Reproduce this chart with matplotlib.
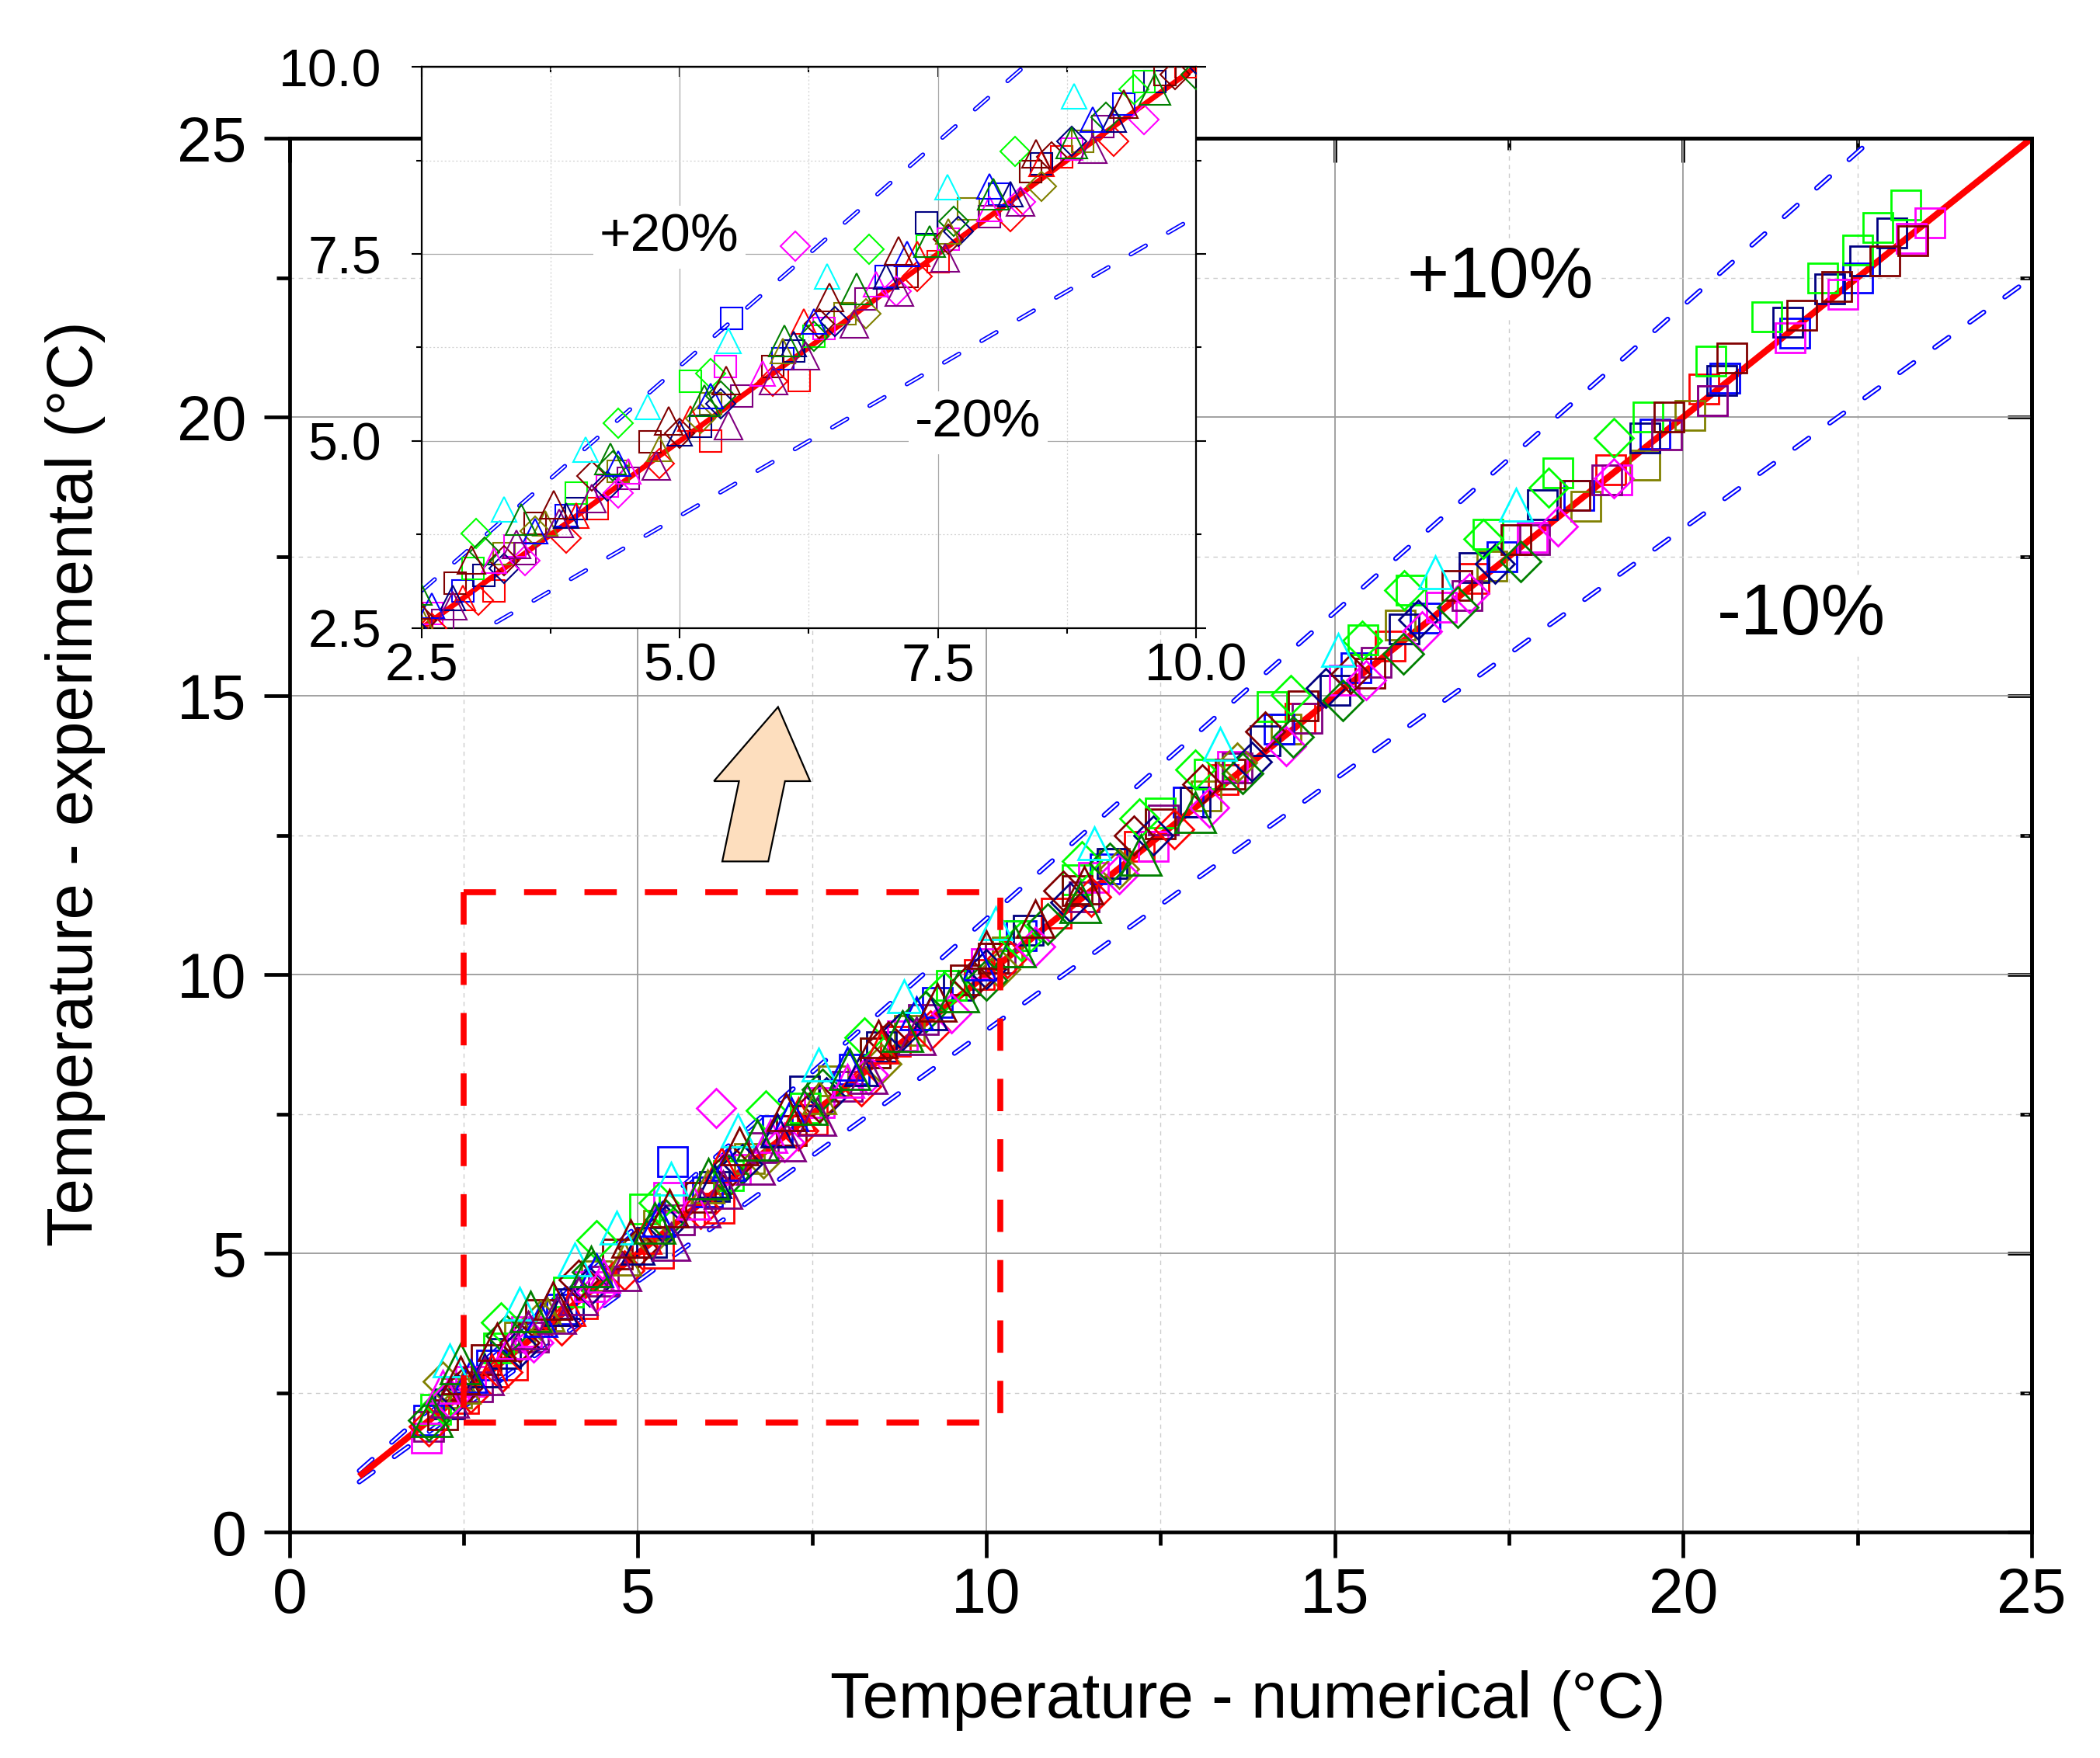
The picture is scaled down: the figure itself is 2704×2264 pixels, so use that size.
import matplotlib
matplotlib.use('Agg')
import matplotlib.pyplot as plt
from matplotlib.ticker import MultipleLocator, FixedLocator, FormatStrFormatter, NullFormatter
from matplotlib.patches import Polygon
import numpy as np

plt.rcParams['font.family'] = ['Liberation Sans', 'DejaVu Sans']
plt.rcParams['lines.scale_dashes'] = False

# ---------------- data ----------------
# squares
sq_lime_x = [2.1, 3.0, 4.0, 5.1, 6.3, 7.4, 8.4, 9.5, 10.4, 11.3, 12.5, 13.2, 14.1, 15.4, 16.1, 17.2, 18.2, 19.5, 20.4, 21.2, 22.0, 22.5, 22.8, 23.2]
sq_lime_y = [2.2, 3.3, 4.3, 5.8, 6.4, 7.6, 8.6, 9.8, 10.7, 11.7, 12.9, 13.6, 14.8, 16.0, 16.9, 17.9, 19.0, 20.0, 21.0, 21.8, 22.5, 23.0, 23.4, 23.8]
sq_maroon_x = [2.2, 2.82, 3.6, 4.71, 5.9, 7.2, 8.4, 9.7, 10.1, 11.3, 12.5, 13.5, 14.55, 15.5, 16.75, 17.6, 18.45, 19.8, 20.7, 21.7, 22.2, 22.9, 23.3]
sq_maroon_y = [2.1, 3.1, 3.9, 4.99, 6.0, 7.2, 8.6, 9.9, 10.3, 11.5, 12.7, 13.6, 14.82, 15.4, 16.98, 17.8, 18.6, 20.0, 21.06, 21.82, 22.34, 22.8, 23.16]
sq_magenta_x = [1.96, 2.6, 3.4, 4.3, 5.44, 6.4, 7.6, 8.8, 10.0, 11.54, 12.4, 13.53, 15.14, 16.53, 17.84, 19.05, 20.42, 21.53, 22.29, 23.27, 23.54]
sq_magenta_y = [1.68, 2.7, 3.6, 4.4, 6.0, 6.5, 7.7, 8.9, 10.2, 11.74, 12.3, 13.73, 15.28, 16.59, 17.85, 18.87, 20.29, 21.42, 22.2, 23.2, 23.48]
sq_navy_x = [2.3, 3.1, 4.0, 5.2, 6.1, 7.39, 8.5, 9.6, 10.6, 11.8, 13.0, 14.0, 15.0, 16.0, 17.0, 17.98, 19.45, 20.55, 21.5, 22.1, 22.6, 23.0]
sq_navy_y = [2.3, 3.2, 4.1, 5.2, 6.2, 7.91, 8.7, 9.8, 10.8, 12.0, 13.1, 14.2, 15.1, 16.2, 17.3, 18.43, 19.63, 20.65, 21.7, 22.3, 22.8, 23.3]
sq_blue_x = [2.0, 2.9, 3.9, 5.5, 6.0, 7.0, 8.1, 9.3, 10.5, 11.7, 12.9, 14.2, 15.3, 16.3, 17.4, 18.5, 19.6, 20.6, 21.6, 22.5]
sq_blue_y = [2.0, 3.0, 4.0, 6.64, 6.1, 7.2, 8.3, 9.5, 10.7, 11.9, 13.1, 14.4, 15.5, 16.4, 17.5, 18.6, 19.7, 20.7, 21.5, 22.5]
sq_purple_x = [2.0, 2.7, 3.5, 4.5, 5.6, 6.8, 8.0, 9.1, 10.2, 11.4, 12.54, 13.6, 14.6, 15.6, 16.9, 17.87, 18.9, 19.76, 20.42]
sq_purple_y = [1.9, 2.6, 3.5, 4.5, 5.6, 6.9, 8.0, 9.2, 10.3, 11.4, 12.78, 13.7, 14.6, 15.6, 16.8, 17.8, 18.87, 19.68, 20.29]
sq_olive_x = [2.4, 3.3, 4.4, 5.3, 6.6, 7.8, 8.9, 10.3, 11.84, 13.15, 14.3, 15.94, 17.26, 18.6, 19.45, 20.1]
sq_olive_y = [2.5, 3.5, 4.6, 5.5, 6.7, 8.1, 9.0, 10.4, 12.0, 13.2, 14.4, 16.27, 17.33, 18.4, 19.14, 20.03]
sq_red_x = [2.5, 3.2, 4.2, 5.3, 6.16, 7.5, 8.7, 9.9, 11.0, 12.2, 13.4, 14.5, 15.8, 17.0, 18.96, 20.3]
sq_red_y = [2.4, 3.0, 4.1, 5.0, 5.81, 7.4, 8.8, 10.0, 11.1, 12.3, 13.5, 14.6, 15.9, 17.1, 19.05, 20.5]

# diamonds
di_lime_x = [2.2, 3.03, 4.4, 5.3, 6.83, 8.25, 9.4, 10.5, 11.37, 12.2, 13.0, 14.37, 15.39, 16.0, 17.13, 18.07, 19.0]
di_lime_y = [2.3, 3.76, 5.24, 5.9, 7.56, 8.87, 9.7, 10.6, 12.03, 12.8, 13.68, 15.01, 15.99, 16.9, 17.81, 18.74, 19.62]
di_dkgreen_x = [2.0, 3.11, 4.35, 5.4, 6.3, 7.65, 9.13, 10.0, 10.88, 11.77, 13.68, 14.4, 15.12, 15.99, 16.77, 17.67]
di_dkgreen_y = [2.0, 3.52, 4.67, 5.6, 6.4, 7.94, 9.33, 9.9, 10.9, 11.99, 13.61, 14.26, 14.92, 15.75, 16.59, 17.41]
di_magenta_x = [2.3, 3.5, 4.4, 6.12, 7.1, 8.3, 9.5, 10.7, 11.9, 13.2, 14.3, 15.45, 16.25, 16.93, 18.2, 19.0]
di_magenta_y = [2.4, 3.4, 4.3, 7.6, 7.0, 8.2, 9.3, 10.5, 11.8, 13.0, 14.1, 15.28, 16.16, 16.84, 18.04, 18.9]
di_red_x = [2.0, 2.6, 3.05, 3.9, 4.8, 5.9, 7.3, 8.2, 9.2, 10.3, 11.5, 12.7]
di_red_y = [1.9, 2.5, 2.87, 3.7, 4.7, 5.8, 7.2, 8.0, 9.0, 10.3, 11.4, 12.6]
di_navy_x = [2.4, 3.3, 4.3, 5.4, 6.5, 7.7, 8.8, 10.0, 11.2, 12.4, 13.81, 14.87, 16.2, 17.3]
di_navy_y = [2.5, 3.3, 4.4, 5.5, 6.6, 7.8, 9.0, 10.1, 11.3, 12.5, 13.82, 15.14, 16.37, 17.37]
di_maroon_x = [2.5, 3.3, 4.15, 5.0, 6.35, 7.6, 8.6, 9.8, 11.1, 12.12, 13.1, 14.0, 15.23]
di_maroon_y = [2.6, 3.4, 4.53, 5.1, 6.57, 7.7, 8.8, 9.9, 11.5, 12.49, 13.41, 14.36, 15.39]
di_olive_x = [2.2, 3.6, 5.2, 6.8, 8.5, 10.2, 11.9, 13.6]
di_olive_y = [2.7, 3.8, 5.3, 6.7, 8.4, 10.1, 11.9, 13.8]

# triangles
tr_cyan_x = [2.3, 3.3, 4.09, 4.69, 5.47, 6.43, 7.59, 8.82, 10.13, 11.55, 13.35, 15.05, 16.44, 17.6]
tr_cyan_y = [3.08, 4.09, 4.89, 5.46, 6.34, 7.2, 8.39, 9.61, 10.92, 12.35, 14.14, 15.82, 17.22, 18.43]
tr_maroon_x = [2.45, 2.98, 3.78, 4.89, 5.45, 6.45, 7.12, 8.45, 9.3, 10.0, 10.7, 11.4]
tr_maroon_y = [2.81, 3.41, 4.15, 5.27, 5.81, 6.92, 7.54, 8.84, 9.5, 10.45, 11.0, 11.6]
tr_purple_x = [2.3, 2.8, 3.42, 3.83, 4.15, 4.77, 5.47, 5.91, 6.22, 6.69, 7.13, 7.57, 8.3, 9.0]
tr_purple_y = [2.4, 2.8, 3.62, 3.9, 4.23, 4.67, 5.21, 5.81, 6.14, 6.57, 6.99, 7.45, 8.2, 8.9]
tr_blue_x = [2.6, 3.6, 4.4, 5.3, 6.3, 7.2, 8.0, 9.0, 9.9]
tr_blue_y = [2.8, 3.8, 4.7, 5.6, 6.6, 7.5, 8.4, 9.3, 10.2]
tr_navy_x = [2.8, 3.9, 5.0, 6.1, 7.0, 8.2, 9.2]
tr_navy_y = [2.9, 4.0, 5.1, 6.3, 7.2, 8.3, 9.3]
tr_red_x = [2.9, 4.0, 5.1, 6.2, 7.3, 8.5]
tr_red_y = [2.9, 4.0, 5.3, 6.6, 7.5, 8.7]
tr_magenta_x = [2.2, 3.2, 4.5, 5.8, 6.9, 8.0]
tr_magenta_y = [2.6, 3.4, 4.6, 5.9, 7.1, 8.1]
tr_olive_x = [2.5, 3.7, 4.8, 6.0, 7.6]
tr_olive_y = [2.6, 3.9, 4.9, 6.2, 7.8]
tr_dkgreen_x = [2.04, 2.45, 3.46, 4.33, 5.24, 6.01, 6.71, 7.42, 8.04, 8.8, 9.6, 10.41, 11.35, 12.22, 13.0]
tr_dkgreen_y = [2.08, 3.02, 3.95, 4.76, 5.54, 6.34, 7.03, 7.67, 8.3, 8.98, 9.7, 10.5, 11.3, 12.14, 12.91]

# reference lines
ref_x_main = [1.0, 25.0]
ref_x_inset = [2.5, 10.0]
band_main = 0.10
band_inset = 0.20

ticks_main = [0, 5, 10, 15, 20, 25]
ticks_inset = [2.5, 5.0, 7.5, 10.0]

# zoom box and arrow (decorations, data units of main axes)
rect_x = [2.5, 10.2]
rect_y = [1.97, 11.48]
arrow_xy = [(7.01, 14.80), (7.47, 13.47), (7.11, 13.47), (6.87, 12.03),
            (6.21, 12.03), (6.45, 13.47), (6.09, 13.47)]

# ---------------- styles ----------------
LIME, BLUE, NAVY, MAGENTA = '#00FF00', '#0000FF', '#000080', '#FF00FF'
MAROON, PURPLE, OLIVE, RED = '#800000', '#800080', '#808000', '#FF0000'
CYAN, DKGREEN = '#00FFFF', '#008000'

series = [
    (sq_red_x, sq_red_y, 's', RED, 27),
    (sq_olive_x, sq_olive_y, 's', OLIVE, 27),
    (sq_blue_x, sq_blue_y, 's', BLUE, 27),
    (sq_navy_x, sq_navy_y, 's', NAVY, 27),
    (sq_lime_x, sq_lime_y, 's', LIME, 27),
    (sq_magenta_x, sq_magenta_y, 's', MAGENTA, 27),
    (sq_purple_x, sq_purple_y, 's', PURPLE, 27),
    (sq_maroon_x, sq_maroon_y, 's', MAROON, 27),
    (di_red_x, di_red_y, 'D', RED, 25),
    (di_olive_x, di_olive_y, 'D', OLIVE, 25),
    (di_navy_x, di_navy_y, 'D', NAVY, 25),
    (di_lime_x, di_lime_y, 'D', LIME, 25),
    (di_magenta_x, di_magenta_y, 'D', MAGENTA, 25),
    (di_maroon_x, di_maroon_y, 'D', MAROON, 25),
    (di_dkgreen_x, di_dkgreen_y, 'D', DKGREEN, 26),
    (tr_red_x, tr_red_y, '^', RED, 30),
    (tr_olive_x, tr_olive_y, '^', OLIVE, 30),
    (tr_magenta_x, tr_magenta_y, '^', MAGENTA, 30),
    (tr_navy_x, tr_navy_y, '^', NAVY, 30),
    (tr_blue_x, tr_blue_y, '^', BLUE, 30),
    (tr_cyan_x, tr_cyan_y, '^', CYAN, 30),
    (tr_purple_x, tr_purple_y, '^', PURPLE, 34),
    (tr_maroon_x, tr_maroon_y, '^', MAROON, 34),
    (tr_dkgreen_x, tr_dkgreen_y, '^', DKGREEN, 38),
]

FS_TICK = 58
FS_LABEL = 60
FS_BAND = 67
FS_INSET = 49


def ddash(a, x, y, lw_out=4.6, lw_in=1.7, dashes=(16, 24)):
    a.plot(x, y, color=BLUE, lw=lw_out, dashes=dashes, dash_capstyle='round', zorder=2)
    a.plot(x, y, color='white', lw=lw_in, dashes=dashes, dash_capstyle='round', zorder=2.05)


fig = plt.figure(figsize=(27.04, 22.64), dpi=100)

# ---------------- main axes ----------------
ax = fig.add_axes([0.1379, 0.1285, 0.8295, 0.7928])
ax.set_xlim(0, 25)
ax.set_ylim(0, 25)
ax.set_axisbelow(True)

rx = np.array(ref_x_main)
ax.plot(rx, rx, color=RED, lw=6, zorder=2.1, solid_capstyle='butt')
ddash(ax, rx, rx * (1 + band_main))
ddash(ax, rx, rx * (1 - band_main))

for xs, ys, m, c, s in series:
    ax.plot(xs, ys, ls='none', marker=m, ms=s, mfc='none', mec=c, mew=2.0, zorder=3)

ax.xaxis.set_major_locator(FixedLocator(ticks_main))
ax.yaxis.set_major_locator(FixedLocator(ticks_main))
ax.xaxis.set_minor_locator(MultipleLocator(2.5))
ax.yaxis.set_minor_locator(MultipleLocator(2.5))
ax.grid(which='major', color='#9a9a9a', lw=1.3, ls='-')
ax.grid(which='minor', color='#cccccc', lw=1.0, ls=(0, (4, 4)))
ax.tick_params(which='major', direction='out', length=24, width=3.4, labelsize=FS_TICK)
ax.tick_params(which='minor', direction='out', length=12, width=3.4)
ax.tick_params(axis='x', which='major', pad=8)
ax.tick_params(axis='y', which='major', pad=16)
for sp in ax.spines.values():
    sp.set_linewidth(3.4)

sx = ax.secondary_xaxis('top')
sx.xaxis.set_major_locator(FixedLocator(ticks_main))
sx.xaxis.set_minor_locator(MultipleLocator(2.5))
sx.xaxis.set_major_formatter(NullFormatter())
sx.tick_params(which='major', direction='in', length=22, width=3.4)
sx.tick_params(which='minor', direction='in', length=11, width=3.4)
sx.spines['top'].set_linewidth(3.4)
sy = ax.secondary_yaxis('right')
sy.yaxis.set_major_locator(FixedLocator(ticks_main))
sy.yaxis.set_minor_locator(MultipleLocator(2.5))
sy.yaxis.set_major_formatter(NullFormatter())
sy.tick_params(which='major', direction='in', length=22, width=3.4)
sy.tick_params(which='minor', direction='in', length=11, width=3.4)
sy.spines['right'].set_linewidth(3.4)

ax.set_xlabel('Temperature - numerical (°C)', fontsize=FS_LABEL, va='center')
ax.xaxis.set_label_coords(0.55, -0.121)
ax.set_ylabel('Temperature - experimental (°C)', fontsize=FS_LABEL, va='center')
ax.yaxis.set_label_coords(-0.123, 0.537)

box = dict(boxstyle='square,pad=0.08', fc='white', ec='none')
ax.text(17.38, 22.48, '+10%', fontsize=FS_BAND, ha='center', va='center', bbox=box, zorder=2.5)
ax.text(21.7, 16.43, '-10%', fontsize=FS_BAND, ha='center', va='center', bbox=box, zorder=2.5)

# zoom rectangle
rdash = dict(color=RED, lw=5.5, dashes=(30, 26), zorder=6, solid_capstyle='butt', dash_capstyle='butt')
ax.plot([rect_x[0], rect_x[0]], [rect_y[1], rect_y[0]], **rdash)
ax.plot([rect_x[0], rect_x[1]], [rect_y[0], rect_y[0]], **rdash)
ax.plot([rect_x[0], rect_x[1] - 0.3], [rect_y[1], rect_y[1]], **rdash)
ax.plot([rect_x[1], rect_x[1]], [rect_y[1] - 0.1, rect_y[0] + 0.1], **rdash)

ax.add_patch(Polygon(arrow_xy, closed=True, fc='#FDDEBE', ec='black', lw=1.6, zorder=6))

# ---------------- inset ----------------
axin = fig.add_axes([0.2008, 0.6427, 0.3687, 0.3193])
axin.set_facecolor('white')
axin.set_xlim(2.5, 10)
axin.set_ylim(2.5, 10)
axin.set_axisbelow(True)

ix = np.array(ref_x_inset)
axin.plot(ix, ix, color=RED, lw=5, zorder=2.1)
ddash(axin, ix, ix * (1 + band_inset), lw_out=4.0, lw_in=1.5)
ddash(axin, ix, ix * (1 - band_inset), lw_out=4.0, lw_in=1.5)

for xs, ys, m, c, s in series:
    axin.plot(xs, ys, ls='none', marker=m, ms=s * 0.76, mfc='none', mec=c, mew=1.5, zorder=3)

axin.xaxis.set_major_locator(FixedLocator(ticks_inset))
axin.yaxis.set_major_locator(FixedLocator(ticks_inset))
axin.xaxis.set_minor_locator(MultipleLocator(1.25))
axin.yaxis.set_minor_locator(MultipleLocator(1.25))
axin.xaxis.set_major_formatter(FormatStrFormatter('%.1f'))
axin.yaxis.set_major_formatter(FormatStrFormatter('%.1f'))
axin.grid(which='major', color='#a8a8a8', lw=0.9, ls='-')
axin.grid(which='minor', color='#d2d2d2', lw=0.9, ls=(0, (1.5, 2)))
axin.tick_params(which='major', direction='out', length=9.5, width=1.5, labelsize=FS_INSET, right=True)
axin.tick_params(which='minor', direction='out', length=5, width=1.5, right=True)
axin.tick_params(axis='x', which='major', pad=3)
axin.tick_params(axis='y', which='major', pad=28)
for sp in axin.spines.values():
    sp.set_linewidth(1.6)
ix_top = axin.secondary_xaxis('top')
ix_top.xaxis.set_major_locator(FixedLocator(ticks_inset))
ix_top.xaxis.set_minor_locator(MultipleLocator(1.25))
ix_top.xaxis.set_major_formatter(NullFormatter())
ix_top.tick_params(which='major', direction='in', length=9, width=1.5)
ix_top.tick_params(which='minor', direction='in', length=5, width=1.5)
ix_top.spines['top'].set_linewidth(1.6)

boxi = dict(boxstyle='square,pad=0.12', fc='white', ec='none')
axin.text(4.9, 7.72, '+20%', fontsize=FS_INSET + 1, ha='center', va='center', bbox=boxi, zorder=2.5)
axin.text(7.89, 5.24, '-20%', fontsize=FS_INSET + 1, ha='center', va='center', bbox=boxi, zorder=2.5)

fig.savefig('out.png', dpi=100)
